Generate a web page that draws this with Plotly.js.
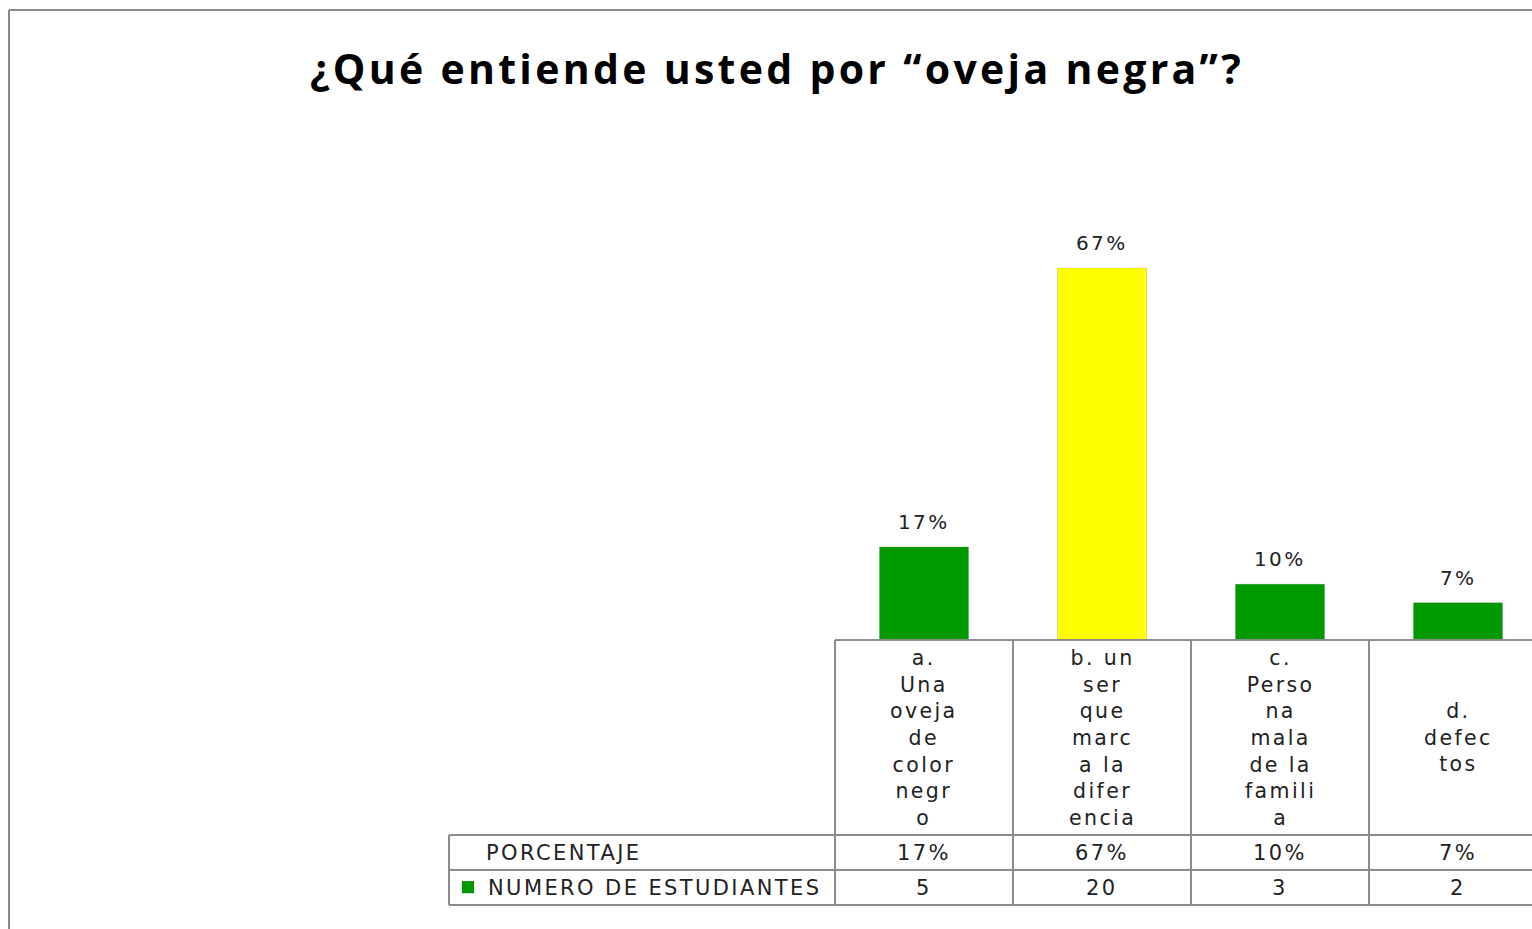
<!DOCTYPE html>
<html>
<head>
<meta charset="utf-8">
<script src="https://cdn.plot.ly/plotly-3.0.1.min.js"></script>
<style>
html,body{margin:0;padding:0;background:#fff;}
#chart{width:1532px;height:929px;}
.annotation-text, .legendtext { letter-spacing: 2.4px; }
.gtitle { letter-spacing: 3.3px; }
</style>
</head>
<body>
<div id="chart"></div>
<script>
// ---- data ----
const categories = [
  "a.<br>Una<br>oveja<br>de<br>color<br>negr<br>o",
  "b. un<br>ser<br>que<br>marc<br>a la<br>difer<br>encia",
  "c.<br>Perso<br>na<br>mala<br>de la<br>famili<br>a",
  "d.<br>defec<br>tos"
];
const students = [5, 20, 3, 2];
const percents = ["17%", "67%", "10%", "7%"];
const barColors = ["#009900", "#FFFF00", "#009900", "#009900"];
const rowHeaders = ["PORCENTAJE", "NUMERO DE ESTUDIANTES"];
const titleText = "¿Qué entiende usted por “oveja negra”?";

// ---- geometry helpers (pixels) ----
const W = 1532, Hfig = 929;
const mL = 440, mT = 130, baseY = 640;
const plotH = baseY - mT;
const colW = 178;
const colLeft = 835;
const xmin = -0.5 - (colLeft - mL) / colW;
const xmax = -0.5 + (W - colLeft) / colW;
const yTop = 20 * plotH / 372;
function py(p) { return (baseY - p) / plotH; }
function px(p) { return -0.5 + (p - colLeft) / colW; }
function ppx(p) { return (p - mL) / (W - mL); }

const xs = categories.map((c, i) => i);
const font = "DejaVu Sans, Verdana, sans-serif";
const fs = 21;
const txtColor = "#222222";
const lineColor = "#8c8c8c";

const shapes = [];
function hline(y, x0, x1) {
  shapes.push({type: "line", xref: "x", yref: "paper", x0: x0, x1: x1, y0: py(y), y1: py(y),
    line: {color: lineColor, width: 2}});
}
function vline(x, y0, y1) {
  shapes.push({type: "line", xref: "x", yref: "paper", x0: x, x1: x, y0: py(y0), y1: py(y1),
    line: {color: lineColor, width: 2}});
}
// axis line
hline(640, -0.5, xmax + 0.5);
// table rows
const tableLeft = px(449);
hline(835, tableLeft, xmax + 0.5);
hline(870, tableLeft, xmax + 0.5);
hline(905, tableLeft, xmax + 0.5);
vline(tableLeft, 835, 905);
for (let i = 0; i <= categories.length; i++) vline(i - 0.5, 640, 905);
// outer chart border
shapes.push({type: "line", xref: "paper", yref: "paper", x0: ppx(9), x1: ppx(9), y0: py(10), y1: py(940),
  line: {color: "#8a8a8a", width: 2}});
shapes.push({type: "line", xref: "paper", yref: "paper", x0: ppx(9), x1: ppx(1545), y0: py(10), y1: py(10),
  line: {color: "#8a8a8a", width: 2}});

const annotations = [];
// data labels above bars
xs.forEach((x, i) => {
  annotations.push({x: x, y: students[i], xref: "x", yref: "y", text: percents[i], showarrow: false,
    yanchor: "bottom", yshift: 11, font: {family: font, size: 20, color: txtColor}});
});
// category labels in table header row
xs.forEach((x, i) => {
  annotations.push({x: x, y: py(737.5), xref: "x", yref: "paper", text: categories[i], showarrow: false,
    yanchor: "middle", xanchor: "center", font: {family: font, size: 20.5, color: txtColor}});
});
// percentage row
xs.forEach((x, i) => {
  annotations.push({x: x, y: py(852.5), xref: "x", yref: "paper", text: percents[i], showarrow: false,
    yanchor: "middle", font: {family: font, size: fs, color: txtColor}});
});
// students row
xs.forEach((x, i) => {
  annotations.push({x: x, y: py(887.5), xref: "x", yref: "paper", text: String(students[i]), showarrow: false,
    yanchor: "middle", font: {family: font, size: fs, color: txtColor}});
});
// row header
annotations.push({x: px(484), y: py(852.5), xref: "x", yref: "paper", text: rowHeaders[0], showarrow: false,
  xanchor: "left", yanchor: "middle", font: {family: font, size: fs, color: txtColor}});

const trace = {
  type: "bar", x: xs, y: students, name: rowHeaders[1],
  marker: {color: barColors, line: {color: "rgba(0,0,0,0.12)", width: 1}},
  width: 0.5, hoverinfo: "skip", showlegend: true
};

const layout = {
  width: W, height: Hfig,
  margin: {l: mL, r: 0, t: mT, b: Hfig - baseY, autoexpand: false},
  paper_bgcolor: "#ffffff", plot_bgcolor: "#ffffff",
  title: {text: titleText, x: 777 / W, xref: "container", xanchor: "center",
    y: 1 - 70 / Hfig, yref: "container", yanchor: "middle",
    font: {family: "Open Sans, sans-serif", weight: 700, size: 41, color: "#000000"}},
  xaxis: {range: [xmin, xmax], showgrid: false, zeroline: false, showline: false,
    showticklabels: false, ticks: "", fixedrange: true},
  yaxis: {range: [0, yTop], showgrid: false, zeroline: false, showline: false,
    showticklabels: false, ticks: "", fixedrange: true},
  showlegend: true,
  legend: {x: ppx(448), xref: "paper", xanchor: "left", y: py(887.5), yref: "paper", yanchor: "middle",
    bgcolor: "rgba(0,0,0,0)", borderwidth: 0,
    font: {family: font, size: fs, color: txtColor}, itemwidth: 30},
  shapes: shapes,
  annotations: annotations
};

Plotly.newPlot("chart", [trace], layout, {displayModeBar: false, staticPlot: true});
</script>
</body>
</html>
